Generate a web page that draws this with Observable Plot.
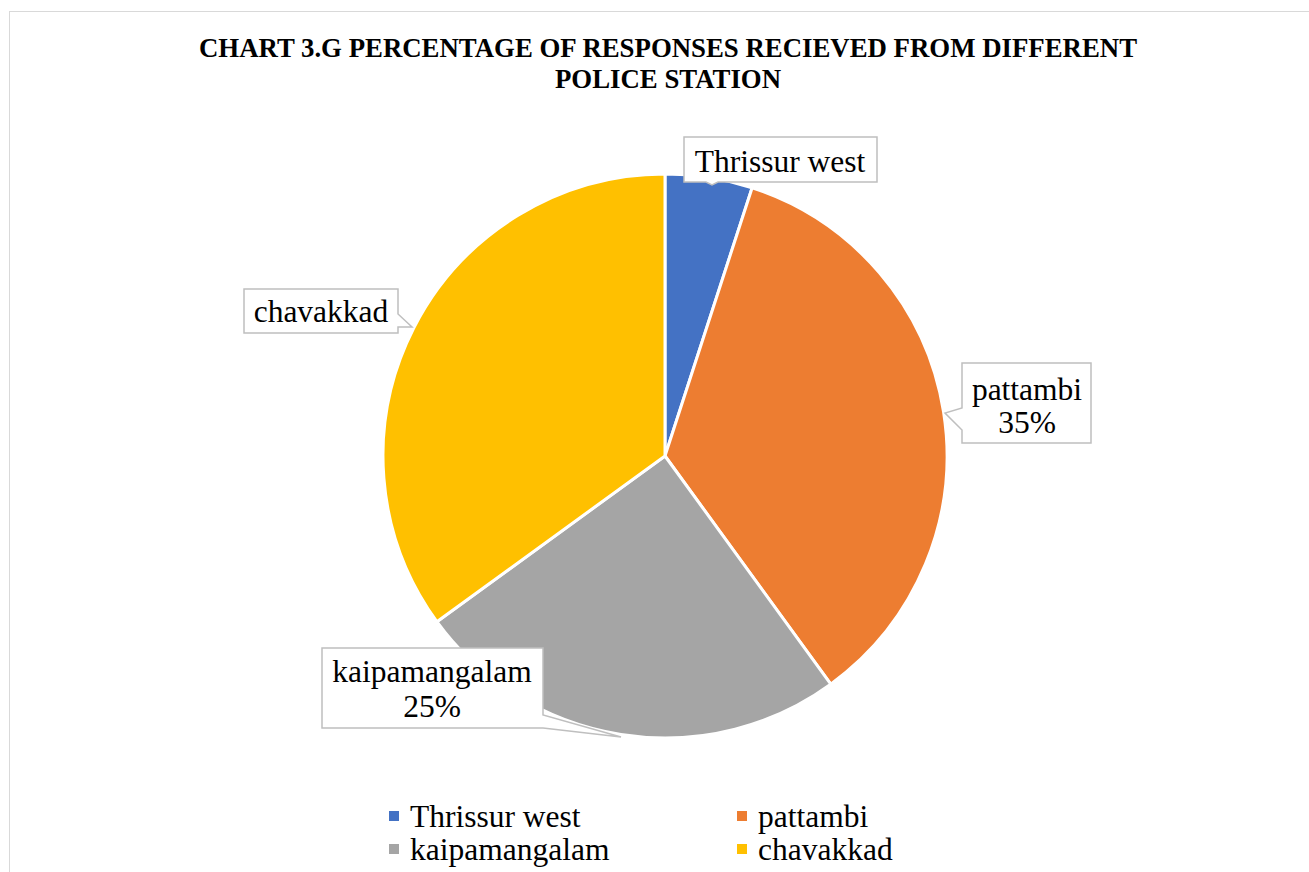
<!DOCTYPE html>
<html>
<head>
<meta charset="utf-8">
<script src="https://cdn.jsdelivr.net/npm/d3@7"></script>
<script src="https://cdn.jsdelivr.net/npm/@observablehq/plot@0.6"></script>
<style>
  body { margin: 0; background: #fff; font-family: "Liberation Serif", "Times New Roman", serif; }
  #wrap { position: relative; width: 1309px; height: 872px; overflow: hidden; background: #fff; }
  #frame { position: absolute; left: 9px; top: 11px; width: 1330px; height: 900px; border: 1.5px solid #d9d9d9; box-sizing: border-box; }
  #title { position: absolute; left: 0; top: 33px; width: 1336px; text-align: center; font-weight: bold; font-size: 26.8px; line-height: 31px; color: #000; }
  #chart { position: absolute; left: 0; top: 0; }
  .leg { position: absolute; font-size: 31.5px; line-height: 33px; color: #000; white-space: nowrap; }
  .sw { position: absolute; width: 10px; height: 10px; }
</style>
</head>
<body>
<div id="wrap">
  <div id="frame"></div>
  <div id="title">CHART 3.G PERCENTAGE OF RESPONSES RECIEVED FROM DIFFERENT<br>POLICE STATION</div>
  <div id="chart"></div>
</div>
<script>
// ---- data ----
const categories = ["Thrissur west", "pattambi", "kaipamangalam", "chavakkad"];
const percents = [5, 35, 25, 35];
const colors = ["#4472C4", "#ED7D31", "#A5A5A5", "#FFC000"];
const showPercent = [false, true, true, false];

// ---- layout (pixels) ----
const pie = {cx: 665, cy: 456, r: 282};
const callouts = [
  {box: [684, 137, 877, 182], side: "bottom", base: [706, 718], tip: [712, 185], tx: 780, lines: [172]},
  {box: [962, 363, 1091, 443], side: "left", base: [408, 430], tip: [945, 413], tx: 1027, lines: [400, 433]},
  {box: [322, 648, 543, 728], side: "right", base: [715, 728], tip: [621, 737], tx: 432, lines: [682, 717]},
  {box: [244, 289, 398, 333], side: "right", base: [314, 327], tip: [412, 327], tx: 321, lines: [322]}
];
const legendPos = [[389, 410, 800], [737, 758, 800], [389, 410, 833], [737, 758, 833]];

const slices = categories.map((c, i) => ({category: c, value: percents[i]}));

function calloutPath(c) {
  const [x1, y1, x2, y2] = c.box, [b0, b1] = c.base, t = c.tip;
  const pts = [[x1, y1]];
  if (c.side === "top") pts.push([b0, y1], t, [b1, y1]);
  pts.push([x2, y1]);
  if (c.side === "right") pts.push([x2, b0], t, [x2, b1]);
  pts.push([x2, y2]);
  if (c.side === "bottom") pts.push([b1, y2], t, [b0, y2]);
  pts.push([x1, y2]);
  if (c.side === "left") pts.push([x1, b1], t, [x1, b0]);
  return "M" + pts.map(p => p.join(",")).join("L") + "Z";
}

const fallbackColor = Plot.scale({color: {type: "ordinal", domain: categories, range: colors}});

function pieMark(index, scales, values, dimensions) {
  const sx = scales.x ?? d3.scaleLinear([-1, 1], [pie.cx - pie.r, pie.cx + pie.r]);
  const sy = scales.y ?? d3.scaleLinear([-1, 1], [pie.cy + pie.r, pie.cy - pie.r]);
  const color = scales.color ?? (v => fallbackColor.apply(v));
  const cx = sx(0), cy = sy(0), r = sx(1) - sx(0);
  const arcs = d3.pie().sort(null).value(d => d.value)(slices);
  const arc = d3.arc().innerRadius(0).outerRadius(r);
  const g = d3.create("svg:g");
  g.append("g").attr("transform", `translate(${cx},${cy})`)
    .selectAll("path").data(arcs).join("path")
    .attr("d", arc)
    .attr("fill", d => color(d.data.category))
    .attr("stroke", "#fff")
    .attr("stroke-width", 3)
    .attr("stroke-linejoin", "round");
  const lg = g.append("g");
  callouts.forEach((c, i) => {
    lg.append("path").attr("d", calloutPath(c))
      .attr("fill", "#fff").attr("stroke", "#bfbfbf").attr("stroke-width", 1.5);
    const texts = [categories[i]];
    if (showPercent[i]) texts.push(percents[i] + "%");
    texts.forEach((t, j) => {
      lg.append("text").attr("x", c.tx).attr("y", c.lines[j])
        .attr("text-anchor", "middle")
        .attr("font-family", "'Liberation Serif', 'Times New Roman', serif")
        .attr("font-size", 31.5).attr("fill", "#000").text(t);
    });
  });
  return g.node();
}

const chart = Plot.plot({
  width: 1309,
  height: 872,
  margin: 0,
  style: {background: "transparent", overflow: "visible"},
  x: {domain: [-1, 1], range: [pie.cx - pie.r, pie.cx + pie.r], axis: null},
  y: {domain: [-1, 1], range: [pie.cy + pie.r, pie.cy - pie.r], axis: null},
  color: {type: "ordinal", domain: categories, range: colors},
  marks: [pieMark]
});
document.getElementById("chart").append(chart);

// legend
const wrap = document.getElementById("wrap");
categories.forEach((c, i) => {
  const [sxp, txp, ty] = legendPos[i];
  const sw = document.createElement("div");
  sw.className = "sw";
  sw.style.left = sxp + "px";
  sw.style.top = (ty + 11) + "px";
  sw.style.background = fallbackColor.apply(c);
  wrap.append(sw);
  const t = document.createElement("div");
  t.className = "leg";
  t.style.left = txp + "px";
  t.style.top = ty + "px";
  t.textContent = c;
  wrap.append(t);
});
</script>
</body>
</html>
